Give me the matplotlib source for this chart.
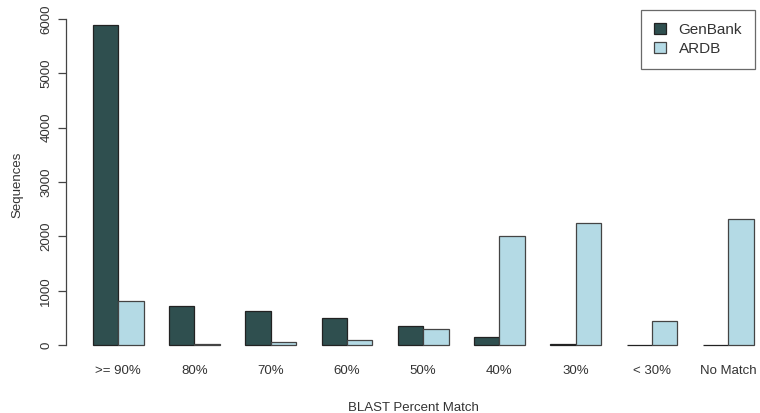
"""BLAST percent match of sequences against GenBank and ARDB."""

import matplotlib.pyplot as plt
import numpy as np

categories = [">= 90%", "80%", "70%", "60%", "50%", "40%", "30%", "< 30%", "No Match"]
genbank = [5890, 718, 626, 503, 350, 142, 30, 5, 5]
ardb = [810, 20, 55, 98, 289, 2006, 2240, 447, 2313]
y_ticks = [0, 1000, 2000, 3000, 4000, 5000, 6000]

DARK = "#2F4F4F"
LIGHT = "#B4DAE5"
TEXT = "#333333"

plt.rcParams["font.family"] = ["Liberation Sans", "DejaVu Sans"]

fig = plt.figure(figsize=(7.6, 4.13), dpi=100)
ax = fig.add_axes([66.3 / 760, 55 / 413, (760 - 66.3) / 760, 346 / 413])

# R barplot layout: each group is 2 bars of width 1 plus a gap of 1
idx = np.arange(len(categories))
left_dark = 3 * idx + 1
ax.bar(left_dark, genbank, width=1, align="edge", color=DARK,
       edgecolor="#222222", linewidth=0.9, label="GenBank")
ax.bar(left_dark + 1, ardb, width=1, align="edge", color=LIGHT,
       edgecolor="#444444", linewidth=0.9, label="ARDB")

ax.set_xlim(-0.04, -0.04 + (760 - 66.3) / 25.42)
ax.set_ylim(-236, 6126)

ax.set_xticks(3 * idx + 2)
ax.set_xticklabels(categories, fontsize=9.5, color=TEXT)
ax.tick_params(axis="x", length=0, pad=5)

ax.set_yticks(y_ticks)
ax.set_yticklabels([str(t) for t in y_ticks], rotation=90, va="center",
                   fontsize=9.5, color=TEXT)
ax.tick_params(axis="y", length=6, width=0.9, color="#444444", pad=4)

for side in ["top", "right", "bottom"]:
    ax.spines[side].set_visible(False)
ax.spines["left"].set_bounds(0, 6000)
ax.spines["left"].set_color("#444444")
ax.spines["left"].set_linewidth(0.9)

ax.set_xlabel("BLAST Percent Match", fontsize=9.5, color=TEXT, labelpad=18)
ax.set_ylabel("Sequences", fontsize=9.5, color=TEXT, labelpad=12)

leg = ax.legend(loc="upper right", bbox_to_anchor=(755 / 760, 1 - 10 / 413),
                bbox_transform=fig.transFigure, fancybox=False, frameon=True,
                fontsize=11, handlelength=0.75, handleheight=0.75,
                borderpad=0.85, labelspacing=0.3, handletextpad=0.85,
                borderaxespad=0)
leg.get_frame().set_edgecolor("#444444")
leg.get_frame().set_linewidth(0.9)
for t in leg.get_texts():
    t.set_color(TEXT)

fig.savefig("out.png", dpi=100)
